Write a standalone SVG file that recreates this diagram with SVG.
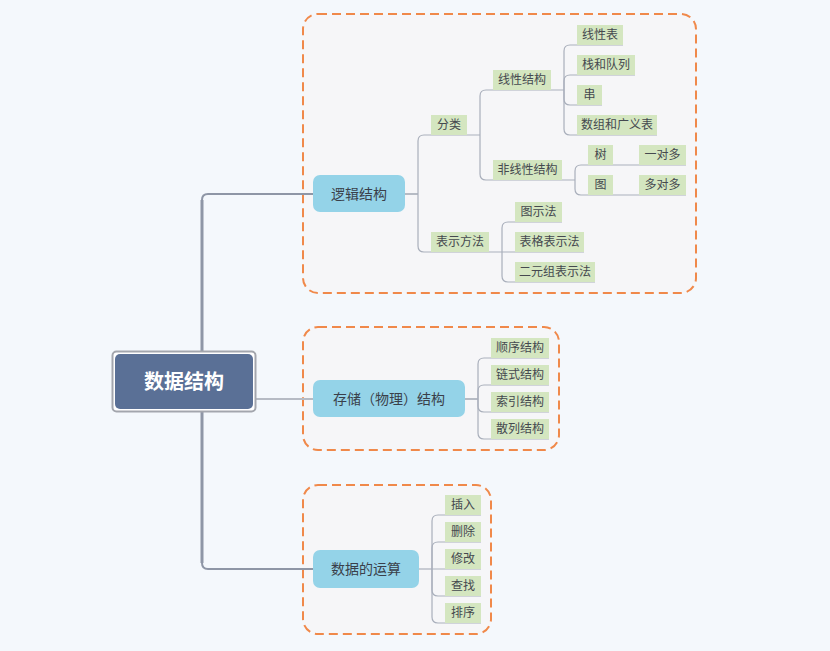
<svg xmlns="http://www.w3.org/2000/svg" width="830" height="651" viewBox="0 0 830 651">
<style>
text{font-family:"Noto Sans CJK SC","Noto Sans",sans-serif;text-anchor:middle}
.bd{fill:#f6f6f8;stroke:#f0894a;stroke-width:2;stroke-dasharray:9 5}
.l1{fill:#94d3e8}
.l1t{font-size:14px;fill:#3a3f4a}
.lb{fill:#d4e6c0}
.lt{font-size:12px;fill:#45494f}
.c{fill:none;stroke:#a9afbb;stroke-width:1.2}
.c2{fill:none;stroke:#b6bbc4;stroke-width:2}
.cr{fill:none;stroke:#8e96a6;stroke-width:2}
</style>
<rect width="830" height="651" fill="#f4f8fc"/>
<g id="boundaries">
<rect class="bd" x="303" y="14" width="393" height="279" rx="15"/>
<rect class="bd" x="303" y="327" width="256" height="123" rx="15"/>
<rect class="bd" x="303" y="485" width="188" height="149" rx="15"/>
</g>
<g id="connectors">
<path class="cr" d="M313,194 H208 Q202,194 202,200 V563 Q202,569 208,569 H313"/>
<path d="M202,200 V563" stroke="#8e96a6" stroke-width="3" fill="none"/>
<path class="c2" d="M256,399 H313"/>
<path class="c2" d="M405,194 H418"/>
<path class="c" d="M418,194 V141 Q418,135 424,135 H480"/>
<path class="c" d="M418,194 V246 Q418,252 424,252 H502"/>
<path class="c" d="M480,135 V96 Q480,90 486,90 H564"/>
<path class="c" d="M480,135 V174 Q480,180 486,180 H575"/>
<path class="c" d="M564,90 V51 Q564,45 570,45 H623"/>
<path class="c" d="M564,90 V81 Q564,75 570,75 H635"/>
<path class="c" d="M564,90 V99 Q564,105 570,105 H602"/>
<path class="c" d="M564,90 V129 Q564,135 570,135 H657"/>
<path class="c" d="M575,180 V171 Q575,165 581,165 H686"/>
<path class="c" d="M575,180 V189 Q575,195 581,195 H686"/>
<path class="c" d="M502,252 V228 Q502,222 508,222 H562"/>
<path class="c" d="M502,252 H584"/>
<path class="c" d="M502,252 V276 Q502,282 508,282 H595"/>
<path class="c2" d="M465,399 H478"/>
<path class="c" d="M478,399 V364 Q478,358 484,358 H549"/>
<path class="c" d="M478,399 V391 Q478,385 484,385 H549"/>
<path class="c" d="M478,399 V406 Q478,412 484,412 H549"/>
<path class="c" d="M478,399 V433 Q478,439 484,439 H549"/>
<path class="c" d="M419,569 H432"/>
<path class="c" d="M432,569 V521 Q432,515 438,515 H481"/>
<path class="c" d="M432,569 V548 Q432,542 438,542 H481"/>
<path class="c" d="M432,569 H481"/>
<path class="c" d="M432,569 V590 Q432,596 438,596 H481"/>
<path class="c" d="M432,569 V617 Q432,623 438,623 H481"/>
</g>
<g id="root">
<rect x="112.5" y="351.5" width="143" height="60" rx="4" fill="#fff" stroke="#a3a6ad" stroke-width="2"/>
<rect x="115" y="354" width="138" height="55" rx="5" fill="#5a7096"/>
<text x="184" y="389" font-size="20" font-weight="bold" fill="#fff">数据结构</text>
</g>
<g id="n-logic"><rect class="l1" x="313" y="175" width="92" height="37" rx="7"/><text class="l1t" x="359" y="199">逻辑结构</text></g>
<g id="n-storage"><rect class="l1" x="313" y="380" width="152" height="37" rx="7" fill="#8ad4ea"/><text class="l1t" x="389" y="404">存储（物理）结构</text></g>
<g id="n-ops"><rect class="l1" x="313" y="550" width="106" height="38" rx="7" fill="#8ad4ea"/><text class="l1t" x="366" y="574">数据的运算</text></g>
<g id="n-fenlei"><rect class="lb" x="431" y="115" width="36" height="20"/><text class="lt" x="449" y="129">分类</text></g>
<g id="n-biaoshi"><rect class="lb" x="431" y="232" width="58" height="20"/><text class="lt" x="460" y="246">表示方法</text></g>
<g id="n-xianxing"><rect class="lb" x="493" y="70" width="58" height="20"/><text class="lt" x="522" y="84">线性结构</text></g>
<g id="n-feixianxing"><rect class="lb" x="493" y="160" width="69" height="20"/><text class="lt" x="527.5" y="174">非线性结构</text></g>
<g id="n-xianxingbiao"><rect class="lb" x="577" y="25" width="46" height="20"/><text class="lt" x="600" y="39">线性表</text></g>
<g id="n-zhan"><rect class="lb" x="577" y="55" width="58" height="20"/><text class="lt" x="606" y="69">栈和队列</text></g>
<g id="n-chuan"><rect class="lb" x="577" y="85" width="25" height="20"/><text class="lt" x="589.5" y="99">串</text></g>
<g id="n-shuzu"><rect class="lb" x="577" y="115" width="80" height="20"/><text class="lt" x="617" y="129">数组和广义表</text></g>
<g id="n-shu"><rect class="lb" x="588" y="145" width="25" height="20"/><text class="lt" x="600.5" y="159">树</text></g>
<g id="n-tu"><rect class="lb" x="588" y="175" width="25" height="20"/><text class="lt" x="600.5" y="189">图</text></g>
<g id="n-yiduiduo"><rect class="lb" x="639" y="145" width="47" height="20"/><text class="lt" x="662.5" y="159">一对多</text></g>
<g id="n-duoduiduo"><rect class="lb" x="639" y="175" width="47" height="20"/><text class="lt" x="662.5" y="189">多对多</text></g>
<g id="n-tushi"><rect class="lb" x="515" y="202" width="47" height="20"/><text class="lt" x="538.5" y="216">图示法</text></g>
<g id="n-biaoge"><rect class="lb" x="515" y="232" width="69" height="20"/><text class="lt" x="549.5" y="246">表格表示法</text></g>
<g id="n-eryuan"><rect class="lb" x="515" y="262" width="80" height="20"/><text class="lt" x="555" y="276">二元组表示法</text></g>
<g id="n-shunxu"><rect class="lb" x="491" y="338" width="58" height="20"/><text class="lt" x="520" y="352">顺序结构</text></g>
<g id="n-lianshi"><rect class="lb" x="491" y="365" width="58" height="20"/><text class="lt" x="520" y="379">链式结构</text></g>
<g id="n-suoyin"><rect class="lb" x="491" y="392" width="58" height="20"/><text class="lt" x="520" y="406">索引结构</text></g>
<g id="n-sanlie"><rect class="lb" x="491" y="419" width="58" height="20"/><text class="lt" x="520" y="433">散列结构</text></g>
<g id="n-charu"><rect class="lb" x="445" y="495" width="36" height="20"/><text class="lt" x="463" y="509">插入</text></g>
<g id="n-shanchu"><rect class="lb" x="445" y="522" width="36" height="20"/><text class="lt" x="463" y="536">删除</text></g>
<g id="n-xiugai"><rect class="lb" x="445" y="549" width="36" height="20"/><text class="lt" x="463" y="563">修改</text></g>
<g id="n-chazhao"><rect class="lb" x="445" y="576" width="36" height="20"/><text class="lt" x="463" y="590">查找</text></g>
<g id="n-paixu"><rect class="lb" x="445" y="603" width="36" height="20"/><text class="lt" x="463" y="617">排序</text></g>
</svg>
